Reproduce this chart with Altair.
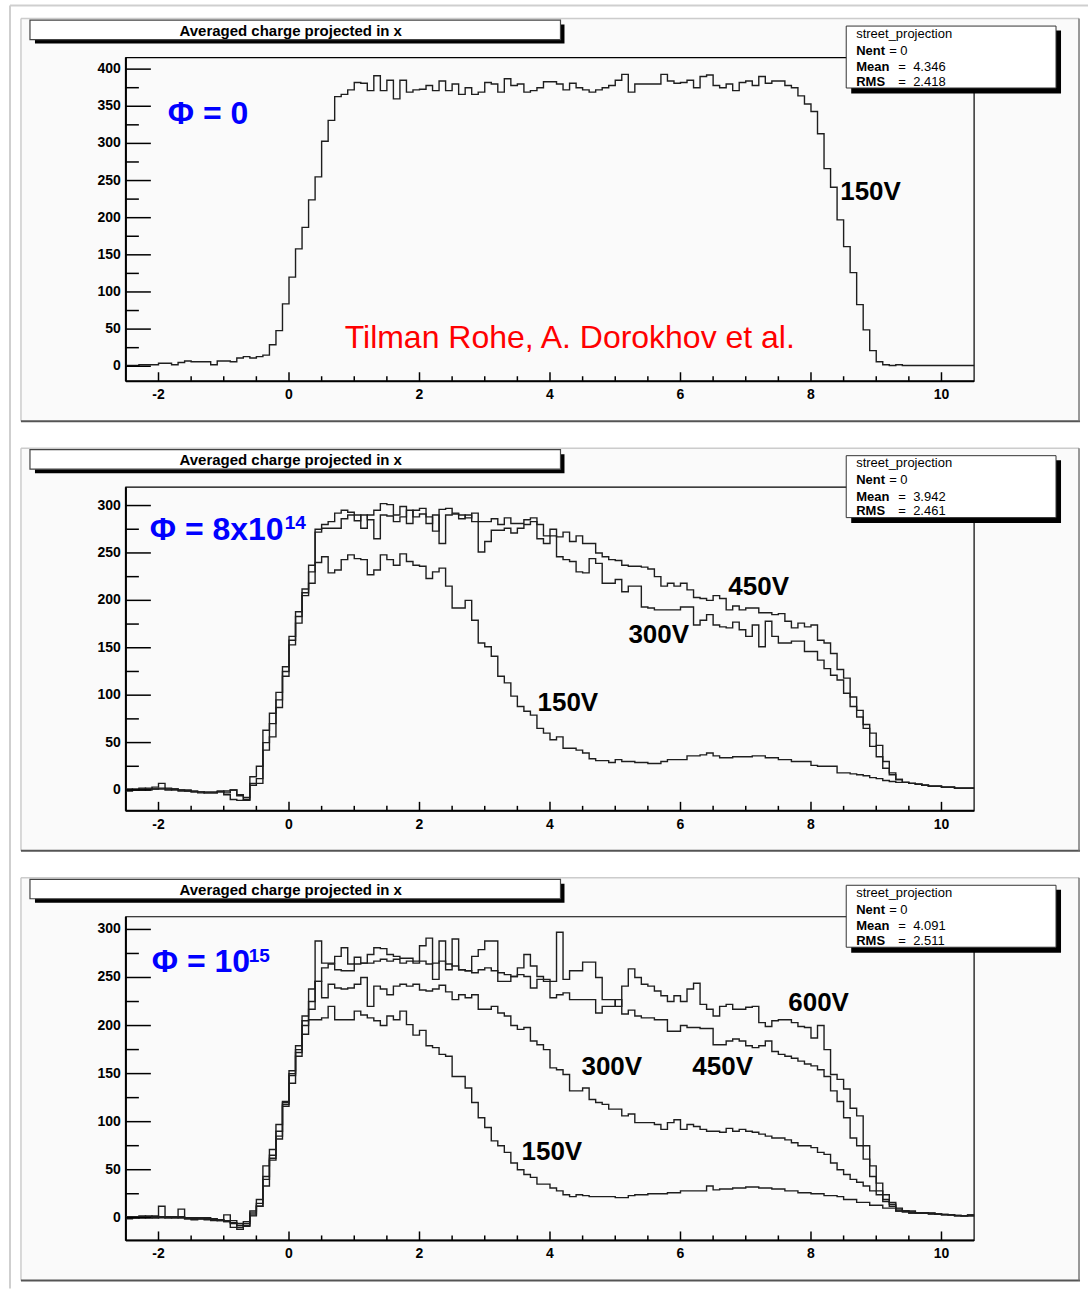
import altair as alt
import pandas as pd

# ---------------- data ----------------
BIN_START = -2.5
BIN_WIDTH = 0.1

X_LABELS = [-2, 0, 2, 4, 6, 8, 10]
X_MINOR = [-1.5, -1, -0.5, 0.5, 1, 1.5, 2.5, 3, 3.5, 4.5, 5, 5.5, 6.5, 7, 7.5, 8.5, 9, 9.5]
Y1_LABELS = [0, 50, 100, 150, 200, 250, 300, 350, 400]
Y1_MINOR = [25, 75, 125, 175, 225, 275, 325, 375]
Y23_LABELS = [0, 50, 100, 150, 200, 250, 300]
Y23_MINOR = [25, 75, 125, 175, 225, 275]

# Panel 1: fluence 0, 150 V
P1_150V = [
    1, 1, 2, 2, 2, 4, 4, 2, 5, 7,
    6, 6, 6, 2, 7, 7, 6, 11, 13, 11,
    13, 15, 29, 48, 84, 120, 158, 187, 224, 255,
    303, 331, 363, 366, 372, 382, 381, 371, 391, 371,
    385, 360, 385, 369, 372, 373, 378, 371, 384, 371,
    380, 366, 375, 366, 369, 382, 380, 369, 387, 378,
    380, 369, 371, 375, 383, 383, 380, 372, 381, 375,
    372, 369, 372, 375, 378, 385, 393, 369, 380, 380,
    380, 380, 393, 384, 381, 382, 385, 375, 390, 392,
    378, 375, 380, 371, 382, 384, 378, 390, 381, 384,
    384, 378, 375, 364, 353, 343, 313, 266, 241, 197,
    161, 126, 83, 49, 21, 6, 2, 1, 2, 1,
    1, 1, 1, 1, 1, 1, 1, 1, 1, 1,
]

# Panel 2: fluence 8e14
P2_150V = [
    -1, 0, 1, 0, 1, 1, 1, 0, 0, -1,
    -2, -2, -3, -3, -2, -3, 0, -6, -11, 5,
    12, 50, 70, 95, 125, 158, 183, 205, 230, 240,
    246, 229, 232, 243, 248, 244, 243, 227, 232, 248,
    243, 237, 249, 241, 237, 236, 223, 230, 234, 215,
    192, 192, 200, 179, 155, 151, 141, 120, 113, 99,
    88, 83, 79, 65, 60, 53, 56, 44, 44, 42,
    39, 33, 31, 31, 29, 32, 30, 30, 29, 29,
    28, 28, 30, 32, 32, 32, 36, 36, 37, 39,
    36, 34, 34, 35, 35, 35, 36, 36, 34, 34,
    32, 32, 30, 30, 30, 26, 25, 25, 25, 18,
    18, 17, 16, 15, 13, 12, 10, 9, 8, 8,
    7, 6, 5, 4, 4, 3, 3, 2, 2, 2,
]
P2_300V = [
    0, 1, 0, 2, 1, 2, 0, 1, -1, -1,
    -2, -3, -2, -2, -1, -5, -10, -11, -10, 7,
    7, 42, 56, 87, 120, 153, 176, 208, 218, 272,
    276, 276, 276, 286, 290, 284, 290, 285, 265, 290,
    289, 283, 288, 295, 288, 291, 281, 290, 260, 290,
    291, 286, 290, 283, 251, 262, 274, 274, 276, 271,
    276, 280, 283, 265, 260, 268, 246, 243, 241, 230,
    229, 244, 239, 218, 218, 222, 209, 215, 215, 193,
    192, 190, 190, 190, 190, 193, 193, 174, 179, 185,
    174, 172, 171, 177, 169, 162, 174, 151, 178, 162,
    155, 155, 157, 157, 146, 146, 137, 128, 121, 116,
    102, 88, 77, 69, 46, 47, 30, 18, 11, 8,
    7, 6, 5, 4, 4, 3, 3, 2, 2, 2,
]
P2_450V = [
    1, 0, 2, 1, 3, 7, 2, 1, 0, 0,
    -1, -2, -3, -3, -2, -1, 0, -5, -8, 14,
    25, 63, 81, 103, 130, 162, 188, 212, 237, 275,
    280, 283, 292, 295, 293, 290, 276, 290, 295, 302,
    301, 290, 299, 281, 295, 297, 288, 273, 296, 297,
    292, 290, 287, 292, 283, 283, 286, 280, 287, 281,
    281, 285, 287, 280, 268, 275, 267, 272, 262, 268,
    260, 260, 250, 246, 243, 242, 237, 236, 236, 235,
    233, 225, 215, 218, 215, 218, 211, 203, 202, 200,
    205, 202, 190, 194, 190, 192, 192, 187, 187, 185,
    186, 178, 171, 176, 172, 174, 158, 155, 144, 127,
    118, 98, 84, 65, 60, 35, 23, 16, 11, 8,
    7, 6, 5, 4, 4, 3, 3, 2, 2, 2,
]

# Panel 3: fluence 1e15
P3_150V = [
    0, 1, 1, 0, 1, 1, 0, 0, 1, 0,
    -1, -1, 0, -2, -3, -4, -5, -8, -8, 3,
    12, 33, 62, 82, 116, 140, 168, 191, 206, 206,
    208, 220, 206, 206, 206, 215, 211, 208, 205, 200,
    210, 206, 215, 201, 190, 195, 179, 177, 170, 168,
    147, 147, 135, 120, 104, 94, 80, 75, 68, 57,
    50, 45, 42, 35, 35, 31, 28, 24, 22, 24,
    23, 22, 22, 22, 22, 21, 21, 23, 24, 24,
    25, 25, 25, 26, 26, 28, 28, 28, 28, 33,
    29, 30, 30, 31, 31, 32, 32, 31, 31, 30,
    30, 28, 28, 26, 26, 25, 25, 23, 23, 22,
    19, 19, 16, 16, 13, 13, 10, 10, 7, 7,
    5, 5, 5, 4, 4, 3, 3, 2, 2, 2,
]
P3_300V = [
    -1, 0, 2, 1, 0, 12, 1, 0, 0, -1,
    0, -1, -2, -3, -2, -4, -6, -10, -6, 5,
    19, 43, 71, 97, 121, 153, 179, 210, 217, 246,
    229, 243, 239, 238, 239, 243, 250, 220, 241, 238,
    232, 241, 243, 241, 243, 237, 236, 238, 242, 235,
    227, 232, 229, 232, 217, 217, 220, 213, 210, 200,
    196, 198, 184, 180, 175, 156, 154, 149, 132, 132,
    135, 123, 120, 118, 113, 113, 106, 108, 99, 99,
    99, 97, 92, 99, 102, 92, 97, 95, 92, 90,
    90, 89, 93, 90, 92, 90, 89, 87, 85, 83,
    83, 81, 78, 75, 75, 73, 68, 66, 57, 50,
    45, 40, 37, 33, 28, 24, 19, 14, 10, 7,
    7, 5, 5, 5, 4, 3, 3, 2, 2, 2,
]
P3_450V = [
    0, 1, 0, 1, 2, 0, 1, 1, 9, -1,
    -2, 0, -1, -1, -3, 3, -10, -12, -4, 7,
    15, 54, 65, 90, 118, 148, 172, 200, 238, 246,
    260, 264, 258, 257, 257, 264, 265, 265, 267, 269,
    267, 269, 265, 267, 265, 267, 264, 265, 267, 264,
    262, 258, 257, 255, 258, 260, 257, 255, 253, 251,
    253, 251, 239, 248, 246, 229, 232, 234, 227, 227,
    227, 227, 213, 220, 220, 227, 212, 216, 210, 208,
    208, 206, 206, 194, 194, 200, 198, 198, 197, 197,
    180, 180, 184, 186, 184, 179, 177, 179, 184, 173,
    170, 168, 166, 163, 160, 158, 154, 147, 132, 121,
    104, 83, 75, 61, 43, 28, 17, 12, 7, 6,
    5, 5, 5, 4.5, 4, 3.5, 3, 2.5, 2, 3,
]
P3_600V = [
    1, 0, 1, 2, 0, 1, 0, 1, 0, 0,
    -1, -1, -1, -2, -2, -3, -3, -6, -9, 2,
    12, 40, 60, 85, 120, 150, 175, 205, 225, 288,
    265, 265, 272, 281, 264, 271, 265, 274, 281, 280,
    274, 272, 270, 270, 267, 283, 291, 248, 288, 258,
    290, 258, 257, 272, 279, 288, 288, 246, 246, 251,
    260, 274, 262, 251, 248, 246, 297, 248, 257, 257,
    266, 266, 250, 227, 227, 220, 241, 259, 250, 243,
    241, 236, 231, 225, 231, 225, 238, 244, 222, 217,
    210, 220, 222, 217, 217, 219, 220, 203, 199, 205,
    206, 206, 203, 199, 198, 187, 200, 175, 149, 144,
    134, 114, 106, 75, 54, 36, 24, 16, 9, 7,
    6, 5, 5, 4.5, 4, 3.5, 3, 2.5, 2, 3,
]

STATS = [
    ("4.346", "2.418"),
    ("3.942", "2.461"),
    ("4.091", "2.511"),
]

# ---------------- styling / layout ----------------
FONT = "Liberation Sans, Arial, Helvetica, sans-serif"
PLOT_W = 849
PLOT_H = 324
GAP = 106
X_DOMAIN = [-2.5, 10.5]
ONE = pd.DataFrame({"k": [0]})


def hist_df(series):
    rows = []
    for name, vals in series:
        ext = list(vals) + [vals[-1]]
        for i, v in enumerate(ext):
            rows.append({"x": round(BIN_START + i * BIN_WIDTH, 3), "v": v, "s": name})
    return pd.DataFrame(rows)


def tick_df(values):
    return pd.DataFrame({"t": values, "lab": [str(v) for v in values]})


def vrect(x1, x2, y1, y2, **kw):
    return alt.Chart(ONE).mark_rect(**kw).encode(
        x=alt.value(x1), x2=alt.value(x2), y=alt.value(y1), y2=alt.value(y2))


def vrule(x1, x2, y1, y2, **kw):
    return alt.Chart(ONE).mark_rule(**kw).encode(
        x=alt.value(x1), x2=alt.value(x2), y=alt.value(y1), y2=alt.value(y2))


def vtext(txt, x, y, **kw):
    return alt.Chart(ONE).mark_text(text=txt, align="left", baseline="alphabetic",
                                    font=FONT, **kw).encode(x=alt.value(x), y=alt.value(y))


def panel(series, y_domain, y_labels, y_minor, stats, annotations, page=False):
    xs = alt.Scale(domain=X_DOMAIN, nice=False, zero=False)
    ys = alt.Scale(domain=y_domain, nice=False, zero=False)
    layers = []
    if page:
        layers.append(vrect(-126, 963, -57, 1232, color="white"))
        layers.append(vrule(-116, 963, -52, -52, color="#cfcfcf", strokeWidth=2))
        layers.append(vrule(-116, -116, -52, 1232, color="#cfcfcf", strokeWidth=2))
    # ROOT pad
    layers.append(vrect(-105, 954, -39, 364, color="#fafafa"))
    layers.append(vrule(-105, 954, -39, -39, color="#cccccc", strokeWidth=1.5))
    layers.append(vrule(-105, -105, -39, 364, color="#cccccc", strokeWidth=1.5))
    layers.append(vrule(-105, 955, 364, 364, color="#555555", strokeWidth=2))
    layers.append(vrule(954, 954, -39, 364, color="#777777", strokeWidth=1.5))
    # title box
    layers.append(vrect(-91, 439, -33, -14, color="black"))
    layers.append(vrect(-96, 435, -37.5, -18, fill="white", stroke="#444444", strokeWidth=1.2))
    layers.append(alt.Chart(ONE).mark_text(text="Averaged charge projected in x", align="center",
                                           baseline="alphabetic", font=FONT, fontSize=15,
                                           fontWeight="bold", color="black")
                  .encode(x=alt.value(165), y=alt.value(-22)))
    # frame
    layers.append(vrect(0, PLOT_W, 0, PLOT_H, fillOpacity=0, stroke="black", strokeWidth=1.2))
    layers.append(vrule(0, 0, 0, PLOT_H, color="black", strokeWidth=2))
    layers.append(vrule(0, PLOT_W, PLOT_H, PLOT_H, color="black", strokeWidth=2))

    # histograms
    df = hist_df(series)
    layers.append(
        alt.Chart(df).mark_line(interpolate="step-after", color="#1e1e1e", strokeWidth=1.4)
        .encode(
            x=alt.X("x:Q", scale=xs, axis=None),
            y=alt.Y("v:Q", scale=ys, axis=None),
            detail="s:N",
        )
    )
    # y ticks (inside, ROOT style) and labels
    ydf = tick_df(y_labels)
    layers.append(alt.Chart(ydf).mark_rule(color="black", strokeWidth=1.5)
                  .encode(y=alt.Y("t:Q", scale=ys, axis=None), x=alt.value(0), x2=alt.value(25)))
    layers.append(alt.Chart(tick_df(y_minor)).mark_rule(color="black", strokeWidth=1.5)
                  .encode(y=alt.Y("t:Q", scale=ys, axis=None), x=alt.value(0), x2=alt.value(13)))
    layers.append(alt.Chart(ydf).mark_text(align="right", baseline="middle", font=FONT, fontSize=14,
                                           fontWeight="bold", color="black")
                  .encode(y=alt.Y("t:Q", scale=ys, axis=None), x=alt.value(-5),
                          text=alt.Text("lab:N")))
    # x ticks and labels
    xdf = tick_df(X_LABELS)
    layers.append(alt.Chart(xdf).mark_rule(color="black", strokeWidth=1.5)
                  .encode(x=alt.X("t:Q", scale=xs, axis=None), y=alt.value(PLOT_H), y2=alt.value(PLOT_H - 9)))
    layers.append(alt.Chart(tick_df(X_MINOR)).mark_rule(color="black", strokeWidth=1.5)
                  .encode(x=alt.X("t:Q", scale=xs, axis=None), y=alt.value(PLOT_H), y2=alt.value(PLOT_H - 5)))
    layers.append(alt.Chart(xdf).mark_text(align="center", baseline="top", font=FONT, fontSize=14,
                                           fontWeight="bold", color="black")
                  .encode(x=alt.X("t:Q", scale=xs, axis=None), y=alt.value(PLOT_H + 7),
                          text=alt.Text("lab:N")))

    # stats box
    layers.append(vrect(726, 936, -27, 36, color="black"))
    layers.append(vrect(721, 931, -31.5, 30.5, fill="white", stroke="#333333", strokeWidth=1))
    layers.append(vtext("street_projection", 731, -20, fontSize=13, color="black"))
    layers.append(vtext("Nent", 731, -3, fontSize=13, fontWeight="bold", color="black"))
    layers.append(vtext("= 0", 764, -3, fontSize=13, color="black"))
    layers.append(vtext("Mean", 731, 13.5, fontSize=13, fontWeight="bold", color="black"))
    layers.append(vtext("=", 773, 13.5, fontSize=13, color="black"))
    layers.append(vtext(stats[0], 788, 13.5, fontSize=13, color="black"))
    layers.append(vtext("RMS", 731, 28, fontSize=13, fontWeight="bold", color="black"))
    layers.append(vtext("=", 773, 28, fontSize=13, color="black"))
    layers.append(vtext(stats[1], 788, 28, fontSize=13, color="black"))

    for (txt, x, y, size, weight, color) in annotations:
        layers.append(vtext(txt, x, y, fontSize=size, fontWeight=weight, color=color))

    return alt.layer(*layers).properties(width=PLOT_W, height=PLOT_H)


BLUE = "#0000ff"
ann1 = [
    ("Φ = 0", 42, 67, 32, "bold", BLUE),
    ("150V", 715, 142.5, 26, "bold", "black"),
    ("Tilman Rohe, A. Dorokhov et al.", 219, 291, 32, "normal", "#ff0000"),
]
ann2 = [
    ("Φ = 8x10", 24, 53, 32, "bold", BLUE),
    ("14", 159, 42, 19, "bold", BLUE),
    ("450V", 603, 108, 26, "bold", "black"),
    ("300V", 503, 156, 26, "bold", "black"),
    ("150V", 412, 224.5, 26, "bold", "black"),
]
ann3 = [
    ("Φ = 10", 26, 55, 32, "bold", BLUE),
    ("15", 123, 45, 19, "bold", BLUE),
    ("600V", 663, 94, 26, "bold", "black"),
    ("300V", 456, 158, 26, "bold", "black"),
    ("450V", 567, 158, 26, "bold", "black"),
    ("150V", 396, 243, 26, "bold", "black"),
]

p1 = panel([("150V", P1_150V)], [-20.2, 415.6], Y1_LABELS, Y1_MINOR, STATS[0], ann1, page=True)
p2 = panel([("150V", P2_150V), ("300V", P2_300V), ("450V", P2_450V)], [-22, 319.4],
           Y23_LABELS, Y23_MINOR, STATS[1], ann2)
p3 = panel([("150V", P3_150V), ("300V", P3_300V), ("450V", P3_450V), ("600V", P3_600V)],
           [-23.6, 313.2], Y23_LABELS, Y23_MINOR, STATS[2], ann3)

chart = alt.vconcat(p1, p2, p3, spacing=GAP, bounds="flush").properties(
    padding=0, background="white"
).configure_view(strokeWidth=0)

chart.save("out.html", embed_options={"renderer": "svg", "actions": False})
